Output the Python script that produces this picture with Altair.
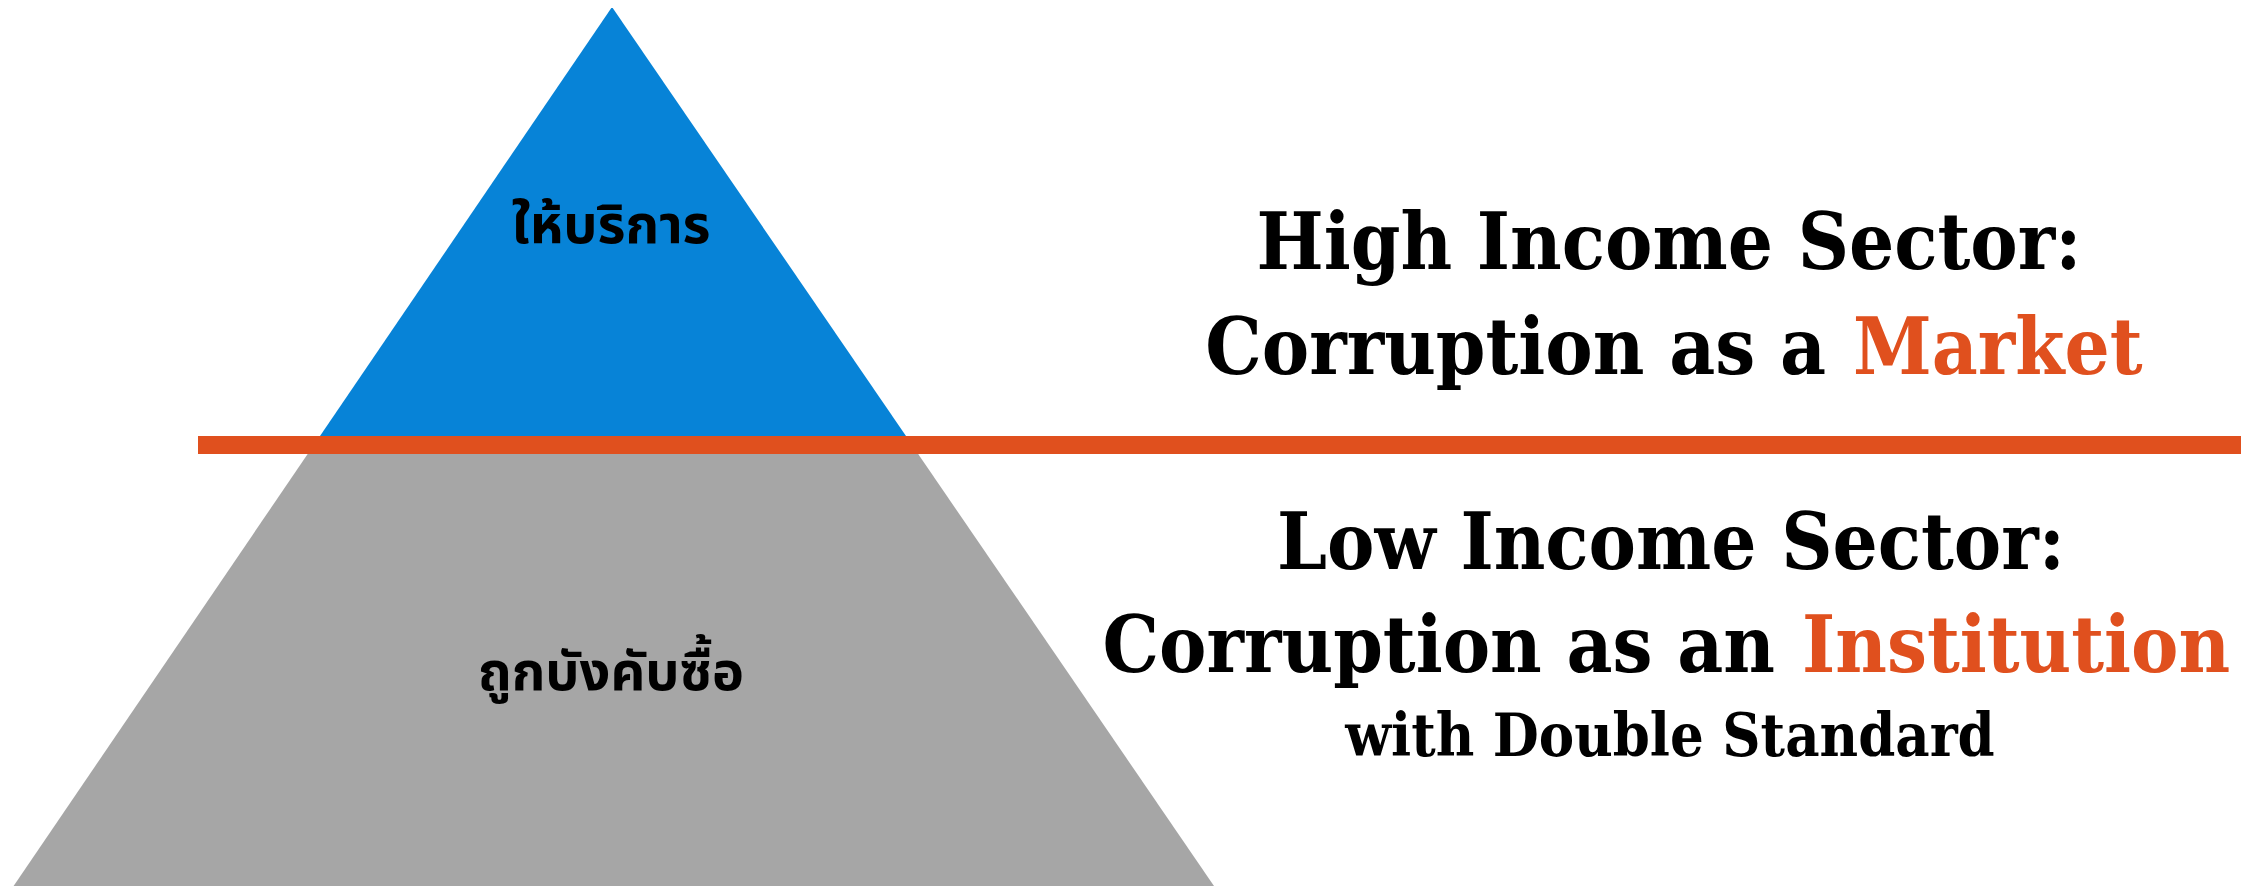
import altair as alt
import pandas as pd

# Pyramid shapes (picture pixel coordinates)
blue_x = [320, 612, 906]
blue_y = [436, 7, 436]
gray_x = [13.6, 313.8, 912, 1214]
gray_y = [886, 445, 445, 886]

# Divider
line_x = [198, 2241]
line_y = 445

# Thai labels
thai_labels = ["ให้บริการ", "ถูกบังคับซื้อ"]
thai_x = [611, 611]
thai_y = [243, 690]

# Right-side text lines (centered)
center_texts = ["High Income Sector:", "Low Income Sector:"]
center_x = [1669, 1671]
center_y = [269, 569]

small_texts = ["with Double Standard"]
small_x = [1670]
small_y = [756]

# Mixed-colour lines: black part (right aligned) + orange part (left aligned)
black_parts = ["Corruption as a", "Corruption as an"]
orange_parts = ["Market", "Institution"]
split_x = [1853, 1802]
split_y = [374, 672]
gap = 27

W, H = 2241, 878
xs = alt.Scale(domain=[8, 8 + W], nice=False, zero=False)
ys = alt.Scale(domain=[8 + H, 8], nice=False, zero=False)
noaxis = None

BLUE = "#0783D7"
GRAY = "#A6A6A6"
ORANGE = "#E0501E"
SERIF = "DejaVu Serif Condensed, DejaVu Serif"

def X(field):
    return alt.X(field, type="quantitative", scale=xs, axis=noaxis)

def Y(field):
    return alt.Y(field, type="quantitative", scale=ys, axis=noaxis)

gray = alt.Chart(pd.DataFrame({"x": gray_x, "y": gray_y, "y2": [886] * 4})).mark_area(
    color=GRAY, interpolate="linear"
).encode(x=X("x"), y=Y("y"), y2="y2:Q")

blue = alt.Chart(pd.DataFrame({"x": blue_x, "y": blue_y, "y2": [436] * 3})).mark_area(
    color=BLUE, interpolate="linear"
).encode(x=X("x"), y=Y("y"), y2="y2:Q")

rule = alt.Chart(pd.DataFrame({"x": [line_x[0]], "x2": [line_x[1]], "y": [line_y]})).mark_rule(
    color=ORANGE, strokeWidth=18
).encode(x=X("x"), x2="x2:Q", y=Y("y"))

thai = alt.Chart(pd.DataFrame({"x": thai_x, "y": thai_y, "t": thai_labels})).mark_text(
    font="Noto Sans Thai, Noto Sans Thai UI, Loma, sans-serif", fontSize=54, fontWeight="bold",
    align="center", baseline="alphabetic", color="#000000"
).encode(x=X("x"), y=Y("y"), text="t:N")

ctext = alt.Chart(pd.DataFrame({"x": center_x, "y": center_y, "t": center_texts})).mark_text(
    font=SERIF, fontSize=79, fontWeight="bold", align="center", baseline="alphabetic", color="#000000"
).encode(x=X("x"), y=Y("y"), text="t:N")

stext = alt.Chart(pd.DataFrame({"x": small_x, "y": small_y, "t": small_texts})).mark_text(
    font=SERIF, fontSize=59, fontWeight="bold", align="center", baseline="alphabetic", color="#000000"
).encode(x=X("x"), y=Y("y"), text="t:N")

btext = alt.Chart(pd.DataFrame({"x": [s - gap for s in split_x], "y": split_y, "t": black_parts})).mark_text(
    font=SERIF, fontSize=79, fontWeight="bold", align="right", baseline="alphabetic", color="#000000"
).encode(x=X("x"), y=Y("y"), text="t:N")

otext = alt.Chart(pd.DataFrame({"x": split_x, "y": split_y, "t": orange_parts})).mark_text(
    font=SERIF, fontSize=79, fontWeight="bold", align="left", baseline="alphabetic", color=ORANGE
).encode(x=X("x"), y=Y("y"), text="t:N")

chart = alt.layer(gray, blue, rule, thai, ctext, stext, btext, otext).properties(
    width=W, height=H, padding=0, autosize=alt.AutoSizeParams(type="none")
).configure(background="#ffffff").configure_view(stroke=None, strokeWidth=0)

chart.save("out.html", embed_options={"renderer": "svg", "actions": False})
